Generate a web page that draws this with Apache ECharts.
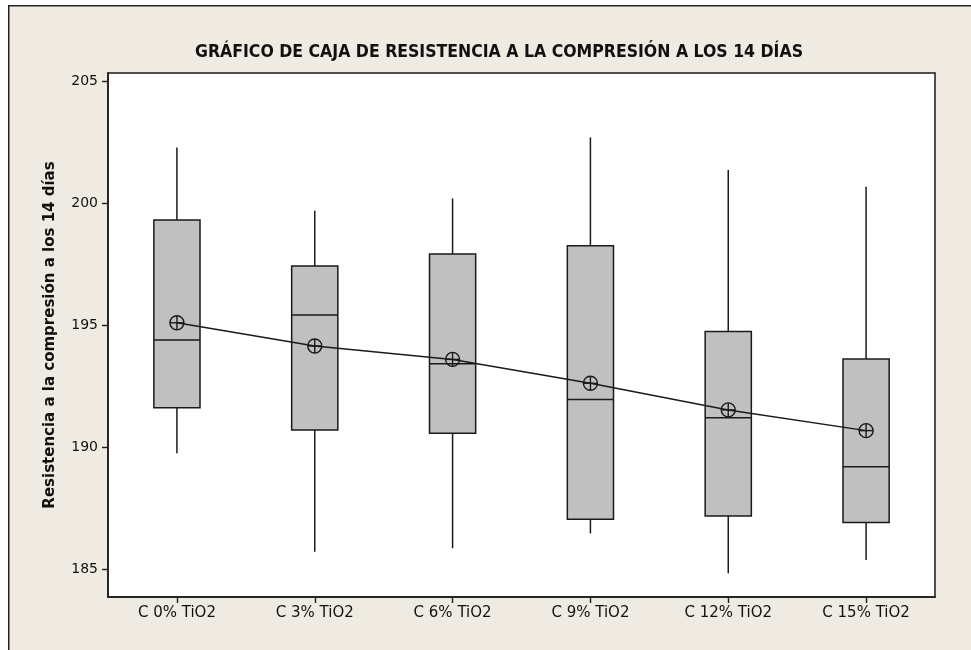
<!DOCTYPE html>
<html>
<head>
<meta charset="utf-8">
<script src="https://cdn.jsdelivr.net/npm/echarts@6/dist/echarts.min.js"></script>
<style>
  html, body { margin: 0; padding: 0; background: #ffffff; }
  #chart { width: 971px; height: 650px; }
</style>
</head>
<body>
<div id="chart"></div>
<script>
// Compressive strength at 14 days, by TiO2 content
const categories = ['C 0% TiO2', 'C 3% TiO2', 'C 6% TiO2', 'C 9% TiO2', 'C 12% TiO2', 'C 15% TiO2'];
const whiskerLow  = [189.74, 185.71, 185.85, 186.46, 184.82, 185.37];
const q1          = [191.61, 190.70, 190.56, 187.04, 187.17, 186.90];
const median      = [194.39, 195.41, 193.41, 191.95, 191.20, 189.19];
const q3          = [199.30, 197.42, 197.91, 198.25, 194.73, 193.61];
const whiskerHigh = [202.28, 199.68, 200.19, 202.69, 201.35, 200.67];
const means       = [195.09, 194.14, 193.59, 192.61, 191.52, 190.67];
const yTicks      = [185, 190, 195, 200, 205];

const titleText = 'GRÁFICO DE CAJA DE RESISTENCIA A LA COMPRESIÓN A LOS 14 DÍAS';
const yName = 'Resistencia a la compresión a los 14 días';

const boxData = categories.map((c, i) => [i, whiskerLow[i], q1[i], median[i], q3[i], whiskerHigh[i]]);
const meanData = categories.map((c, i) => [i, means[i]]);

const ink = '#1a1a1a';
const sans = "'DejaVu Sans', sans-serif";
const narrowFont = "'DejaVu Sans Condensed', 'DejaVu Sans', sans-serif";

function renderBox(params, api) {
  const idx = api.value(0);
  const lo = api.coord([idx, api.value(1)]);
  const b1 = api.coord([idx, api.value(2)]);
  const md = api.coord([idx, api.value(3)]);
  const b3 = api.coord([idx, api.value(4)]);
  const hi = api.coord([idx, api.value(5)]);
  const w = api.size([1, 0])[0] * 0.335;
  const x = lo[0];
  const line = { stroke: ink, lineWidth: 1.5 };
  return {
    type: 'group',
    children: [
      { type: 'line', shape: { x1: x, y1: hi[1], x2: x, y2: b3[1] }, style: line },
      { type: 'line', shape: { x1: x, y1: b1[1], x2: x, y2: lo[1] }, style: line },
      { type: 'rect', shape: { x: x - w / 2, y: b3[1], width: w, height: b1[1] - b3[1] },
        style: { fill: '#c0c0c0', stroke: ink, lineWidth: 1.5 } },
      { type: 'line', shape: { x1: x - w / 2, y1: md[1], x2: x + w / 2, y2: md[1] }, style: line }
    ]
  };
}

function renderMean(params, api) {
  const p = api.coord([api.value(0), api.value(1)]);
  const r = 7;
  const s = { stroke: ink, lineWidth: 1.4, fill: null };
  return {
    type: 'group',
    children: [
      { type: 'circle', shape: { cx: p[0], cy: p[1], r: r }, style: { stroke: ink, lineWidth: 1.4, fill: 'rgba(0,0,0,0)' } },
      { type: 'line', shape: { x1: p[0] - r, y1: p[1], x2: p[0] + r, y2: p[1] }, style: s },
      { type: 'line', shape: { x1: p[0], y1: p[1] - r, x2: p[0], y2: p[1] + r }, style: s }
    ]
  };
}

const chart = echarts.init(document.getElementById('chart'), null, { renderer: 'canvas' });

chart.setOption({
  animation: false,
  backgroundColor: '#ffffff',
  graphic: [
    {
      type: 'rect', left: 8, top: 5, z: -10,
      shape: { width: 975, height: 660 },
      style: { fill: '#efebe2', stroke: '#222222', lineWidth: 1.5 }
    }
  ],
  title: {
    text: titleText,
    left: 494,
    top: 38,
    textAlign: 'center',
    textStyle: { fontFamily: narrowFont, fontWeight: 'bold', fontSize: 17.5, color: '#111' }
  },
  grid: {
    left: 108, right: 36, top: 73, bottom: 53,
    show: true, backgroundColor: '#ffffff', borderColor: ink, borderWidth: 1.5
  },
  xAxis: {
    type: 'category',
    data: categories,
    boundaryGap: true,
    axisLine: { show: true, lineStyle: { color: ink, width: 1.5 } },
    axisTick: { show: true, alignWithLabel: true, length: 6, lineStyle: { color: ink, width: 1.4 } },
    axisLabel: { color: '#111', fontFamily: sans, fontSize: 15, margin: 9 },
    splitLine: { show: false }
  },
  yAxis: {
    type: 'value',
    min: 183.85,
    max: 205.33,
    name: yName,
    nameLocation: 'middle',
    nameGap: 50,
    nameTextStyle: { fontFamily: sans, fontWeight: 'bold', fontSize: 15, color: '#111' },
    axisLine: { show: true, lineStyle: { color: ink, width: 1.5 } },
    axisTick: { show: true, length: 6, customValues: yTicks, lineStyle: { color: ink, width: 1.4 } },
    axisLabel: { color: '#111', fontFamily: sans, fontSize: 14, margin: 10, customValues: yTicks },
    splitLine: { show: false }
  },
  series: [
    {
      type: 'custom',
      renderItem: renderBox,
      data: boxData,
      encode: { x: 0, y: [1, 2, 3, 4, 5] },
      z: 2
    },
    {
      type: 'line',
      data: meanData,
      symbol: 'none',
      lineStyle: { color: ink, width: 1.5 },
      z: 3
    },
    {
      type: 'custom',
      renderItem: renderMean,
      data: meanData,
      encode: { x: 0, y: 1 },
      z: 4
    }
  ]
});
</script>
</body>
</html>
